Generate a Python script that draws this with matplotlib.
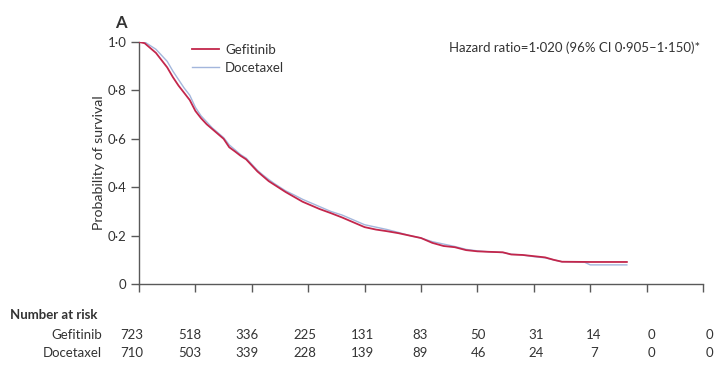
import matplotlib
matplotlib.use("Agg")
import matplotlib.pyplot as plt
import matplotlib.transforms as mtransforms

plt.rcParams['font.family'] = ['Lato', 'DejaVu Sans']

# ---- data ----
gef_t = [0, 0.1, 0.2, 0.3, 0.4, 0.5, 0.6, 0.7, 0.8, 0.9, 1.0, 1.1, 1.2, 1.3, 1.4, 1.5,
         1.6, 1.7, 1.8, 1.9, 2.0, 2.1, 2.2, 2.3, 2.4, 2.5, 2.6, 2.75, 2.9, 3.0, 3.2,
         3.4, 3.6, 3.8, 4.0, 4.2, 4.4, 4.6, 4.8, 5.0, 5.2, 5.4, 5.6, 5.8, 6.0, 6.2,
         6.45, 6.6, 6.8, 7.0, 7.2, 7.35, 7.5, 8.0, 8.65]
gef_s = [1.0, 0.995, 0.975, 0.955, 0.925, 0.895, 0.855, 0.82, 0.79, 0.76, 0.715, 0.685,
         0.66, 0.64, 0.62, 0.60, 0.565, 0.548, 0.53, 0.515, 0.49, 0.465, 0.445, 0.425,
         0.41, 0.395, 0.38, 0.36, 0.34, 0.33, 0.31, 0.293, 0.275, 0.255, 0.235, 0.225,
         0.218, 0.21, 0.20, 0.19, 0.17, 0.157, 0.152, 0.14, 0.135, 0.133, 0.131, 0.122,
         0.12, 0.115, 0.11, 0.10, 0.092, 0.091, 0.091]

doc_t = [0, 0.1, 0.2, 0.3, 0.4, 0.5, 0.6, 0.7, 0.8, 0.9, 1.0, 1.1, 1.2, 1.3, 1.4, 1.5,
         1.6, 1.7, 1.8, 1.9, 2.0, 2.1, 2.2, 2.3, 2.4, 2.5, 2.6, 2.75, 2.9, 3.0, 3.2,
         3.4, 3.6, 3.8, 4.0, 4.2, 4.4, 4.6, 4.8, 5.0, 5.2, 5.4, 5.6, 5.8, 6.0, 6.2,
         6.45, 6.6, 6.8, 7.0, 7.2, 7.35, 7.5, 7.9, 8.0, 8.65]
doc_s = [1.0, 1.0, 0.985, 0.97, 0.945, 0.92, 0.88, 0.845, 0.81, 0.78, 0.73, 0.695,
         0.67, 0.645, 0.625, 0.605, 0.575, 0.555, 0.535, 0.52, 0.495, 0.47, 0.45,
         0.432, 0.415, 0.40, 0.385, 0.368, 0.35, 0.34, 0.32, 0.30, 0.285, 0.265,
         0.245, 0.235, 0.225, 0.213, 0.20, 0.19, 0.175, 0.165, 0.155, 0.143, 0.137,
         0.133, 0.13, 0.123, 0.12, 0.113, 0.108, 0.10, 0.092, 0.09, 0.079, 0.079]

risk_times = list(range(11))
risk_gef = [723, 518, 336, 225, 131, 83, 50, 31, 14, 0, 0]
risk_doc = [710, 503, 339, 228, 139, 89, 46, 24, 7, 0, 0]
y_ticks = [0, 0.2, 0.4, 0.6, 0.8, 1.0]
y_ticklabels = ['0', '0·2', '0·4', '0·6', '0·8', '1·0']

GEF_C = '#c3264b'
DOC_C = '#a3b6dc'
AX_C = '#595959'
TXT_C = '#333333'

fig = plt.figure(figsize=(7.2, 3.67), dpi=100)
ax = fig.add_axes([139/720, 1-284/367, (703-139)/720, (284-42)/367])

ax.plot(doc_t, doc_s, color=DOC_C, lw=1.0, label='Docetaxel', zorder=2)
ax.plot(gef_t, gef_s, color=GEF_C, lw=1.3, label='Gefitinib', zorder=3)

ax.set_xlim(0, 10)
ax.set_ylim(0, 1)
for s in ['top', 'right']:
    ax.spines[s].set_visible(False)
for s in ['left', 'bottom']:
    ax.spines[s].set_color(AX_C)
    ax.spines[s].set_linewidth(1.0)
ax.set_xticks(risk_times)
ax.set_xticklabels([])
ax.set_yticks(y_ticks)
ax.set_yticklabels(y_ticklabels)
ax.tick_params(axis='both', direction='out', length=6, width=1.0, color=AX_C,
               labelsize=9.5, labelcolor=TXT_C, pad=3)
ax.set_ylabel('Probability of survival', fontsize=10.2, color=TXT_C, labelpad=2)

h, l = ax.get_legend_handles_labels()
leg = ax.legend([h[1], h[0]], [l[1], l[0]], loc='upper left', bbox_to_anchor=(0.085, 1.015),
                frameon=False, fontsize=9.5, handlelength=2.0, handletextpad=0.5,
                labelspacing=0.45, borderaxespad=0)
for t in leg.get_texts():
    t.set_color(TXT_C)

ax.text(0.995, 0.977, 'Hazard ratio=1·020 (96% CI 0·905–1·150)*', transform=ax.transAxes,
        ha='right', va='center', fontsize=9.5, color=TXT_C)
fig.text(121/720, 1-23/367, 'A', fontsize=12, fontweight='bold', color=TXT_C,
         ha='center', va='center')

# number at risk table
trans = mtransforms.blended_transform_factory(ax.transData, fig.transFigure)
fig.text(10/720, 1-315/367, 'Number at risk', fontsize=9.5, fontweight='bold',
         color=TXT_C, ha='left', va='center')
fig.text(102/720, 1-335/367, 'Gefitinib', fontsize=9.5, color=TXT_C, ha='right', va='center')
fig.text(102/720, 1-353/367, 'Docetaxel', fontsize=9.5, color=TXT_C, ha='right', va='center')
for i, (tm, g, d) in enumerate(zip(risk_times, risk_gef, risk_doc)):
    xp = -0.124 + 1.023 * tm
    ax.text(xp, 1-335/367, str(g), transform=trans, fontsize=9.5, color=TXT_C,
            ha='center', va='center', clip_on=False)
    ax.text(xp, 1-353/367, str(d), transform=trans, fontsize=9.5, color=TXT_C,
            ha='center', va='center', clip_on=False)

fig.savefig('out.png', dpi=100, facecolor='white')
